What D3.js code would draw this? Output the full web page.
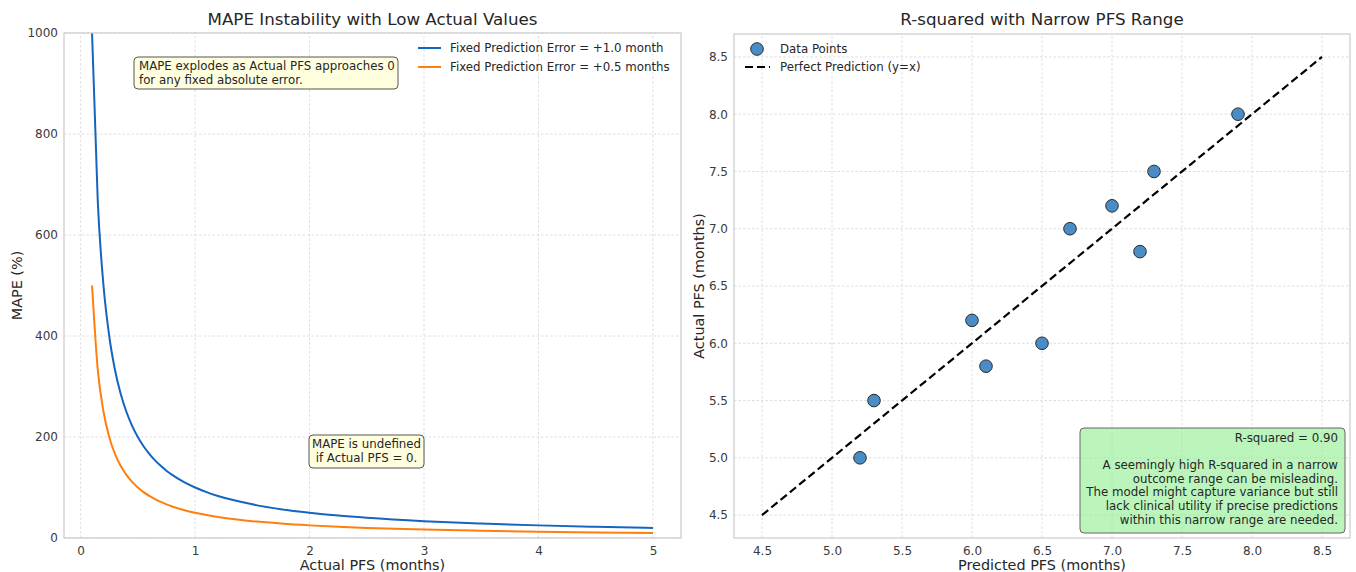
<!DOCTYPE html>
<html>
<head>
<meta charset="utf-8">
<script src="https://cdn.jsdelivr.net/npm/d3@7"></script>
<style>
  html, body { margin: 0; padding: 0; background: #fff; }
  svg { display: block; font-family: "DejaVu Sans", sans-serif; }
</style>
</head>
<body>
<svg id="chart" width="1356" height="572"></svg>
<script>
// ---- Left panel: MAPE vs actual PFS for two fixed absolute errors ----
const actualPFS = [0.1, 0.15, 0.2, 0.25, 0.3, 0.35, 0.4, 0.45, 0.5, 0.55, 0.6, 0.65, 0.7, 0.75, 0.8, 0.9, 1.0, 1.1, 1.2, 1.35, 1.5, 1.75, 2.0, 2.25, 2.5, 3.0, 3.5, 4.0, 4.5, 5.0];
const mapeErr10 = [1000, 666.7, 500, 400, 333.3, 285.7, 250, 222.2, 200, 181.8, 166.7, 153.8, 142.9, 133.3, 125, 111.1, 100, 90.9, 83.3, 74.1, 66.7, 57.1, 50, 44.4, 40, 33.3, 28.6, 25, 22.2, 20];
const mapeErr05 = [500, 333.3, 250, 200, 166.7, 142.9, 125, 111.1, 100, 90.9, 83.3, 76.9, 71.4, 66.7, 62.5, 55.6, 50, 45.5, 41.7, 37.0, 33.3, 28.6, 25, 22.2, 20, 16.7, 14.3, 12.5, 11.1, 10];
const seriesNames = ["Fixed Prediction Error = +1.0 month", "Fixed Prediction Error = +0.5 months"];
const leftXTicks = [0, 1, 2, 3, 4, 5];
const leftYTicks = [0, 200, 400, 600, 800, 1000];

// ---- Right panel: predicted vs actual PFS ----
const predictedPFS = [5.2, 5.3, 6.0, 6.1, 6.5, 6.7, 7.0, 7.2, 7.3, 7.9];
const observedPFS  = [5.0, 5.5, 6.2, 5.8, 6.0, 7.0, 7.2, 6.8, 7.5, 8.0];
const identityLine = [4.5, 8.5];
const rightTicks = [4.5, 5.0, 5.5, 6.0, 6.5, 7.0, 7.5, 8.0, 8.5];
const rSquared = 0.90;

const svg = d3.select("#chart");
const textColor = "#262626";
const tickColor = "#3a3a3a";
const smallFont = 11.8;

function drawFrame(g, x, y, xTicks, yTicks, fmt) {
  const [x0, x1] = x.range();
  const [y0, y1] = y.range();
  // grid
  g.append("g").selectAll("line").data(xTicks).join("line")
    .attr("x1", d => x(d)).attr("x2", d => x(d)).attr("y1", y0).attr("y2", y1)
    .attr("stroke", "#d6d6d6").attr("stroke-width", 0.8).attr("stroke-dasharray", "2.5,2");
  g.append("g").selectAll("line").data(yTicks).join("line")
    .attr("x1", x0).attr("x2", x1).attr("y1", d => y(d)).attr("y2", d => y(d))
    .attr("stroke", "#d6d6d6").attr("stroke-width", 0.8).attr("stroke-dasharray", "2.5,2");
  // axes (labels only, no tick marks)
  const xa = g.append("g").attr("transform", `translate(0,${y0})`)
    .call(d3.axisBottom(x).tickValues(xTicks).tickSize(0).tickPadding(8).tickFormat(fmt));
  const ya = g.append("g").attr("transform", `translate(${x0},0)`)
    .call(d3.axisLeft(y).tickValues(yTicks).tickSize(0).tickPadding(6).tickFormat(fmt));
  [xa, ya].forEach(a => {
    a.select(".domain").remove();
    a.selectAll("text").attr("fill", tickColor).attr("font-size", 12).attr("font-family", "DejaVu Sans");
  });
}

function drawSpines(g, x, y) {
  const [x0, x1] = x.range();
  const [y0, y1] = y.range();
  g.append("rect").attr("x", x0).attr("y", y1).attr("width", x1 - x0).attr("height", y0 - y1)
    .attr("fill", "none").attr("stroke", "#cccccc").attr("stroke-width", 1.25);
}

// ================= Left panel =================
const xL = d3.scaleLinear().domain([-0.145, 5.245]).range([64, 681]);
const yL = d3.scaleLinear().domain([0, 1000]).range([538, 33]);
const gL = svg.append("g");
drawFrame(gL, xL, yL, leftXTicks, leftYTicks, d3.format("d"));

svg.append("defs").append("clipPath").attr("id", "clipL")
  .append("rect").attr("x", 64).attr("y", 33).attr("width", 617).attr("height", 505);

const lineL = (vals) => d3.line().curve(d3.curveMonotoneX)
  .x((d, i) => xL(actualPFS[i])).y(d => yL(d))(vals);
const colors = ["#1565c0", "#ff7f0e"];
gL.append("g").attr("clip-path", "url(#clipL)").selectAll("path")
  .data([mapeErr10, mapeErr05]).join("path")
  .attr("d", d => lineL(d)).attr("fill", "none")
  .attr("stroke", (d, i) => colors[i]).attr("stroke-width", 2);

drawSpines(gL, xL, yL);

// legend
const legL = gL.append("g");
seriesNames.forEach((name, i) => {
  const yy = 48 + i * 19;
  legL.append("line").attr("x1", 418).attr("x2", 441).attr("y1", yy).attr("y2", yy)
    .attr("stroke", colors[i]).attr("stroke-width", 2);
  legL.append("text").attr("x", 450).attr("y", yy + 4).text(name)
    .attr("font-size", smallFont).attr("fill", textColor);
});

// annotation boxes
function noteBox(g, bx, by, bw, bh, lines, opts) {
  g.append("rect").attr("x", bx).attr("y", by).attr("width", bw).attr("height", bh)
    .attr("rx", 4).attr("fill", opts.fill).attr("fill-opacity", opts.opacity || 1)
    .attr("stroke", opts.stroke).attr("stroke-width", 1);
  lines.forEach((t, i) => {
    g.append("text").attr("x", opts.tx).attr("y", opts.ty + i * opts.lh)
      .attr("text-anchor", opts.anchor).attr("font-size", smallFont).attr("fill", textColor).text(t);
  });
}
noteBox(gL, 134, 57, 264, 32,
  ["MAPE explodes as Actual PFS approaches 0", "for any fixed absolute error."],
  { fill: "#ffffe0", stroke: "#555", tx: 139, ty: 70, lh: 14, anchor: "start" });
noteBox(gL, 309, 435, 115, 33,
  ["MAPE is undefined", "if Actual PFS = 0."],
  { fill: "#ffffe0", stroke: "#555", tx: 366.5, ty: 448, lh: 14, anchor: "middle" });

// titles and labels
gL.append("text").attr("x", (64 + 681) / 2).attr("y", 25).attr("text-anchor", "middle")
  .attr("font-size", 16.7).attr("fill", textColor).text("MAPE Instability with Low Actual Values");
gL.append("text").attr("x", (64 + 681) / 2).attr("y", 570).attr("text-anchor", "middle")
  .attr("font-size", 14.4).attr("fill", textColor).text("Actual PFS (months)");
gL.append("text").attr("transform", "translate(22,285.5) rotate(-90)").attr("text-anchor", "middle")
  .attr("font-size", 14.4).attr("fill", textColor).text("MAPE (%)");

// ================= Right panel =================
const xR = d3.scaleLinear().domain([4.3, 8.7]).range([734, 1350]);
const yR = d3.scaleLinear().domain([4.3, 8.7]).range([538, 34]);
const gR = svg.append("g");
drawFrame(gR, xR, yR, rightTicks, rightTicks, d3.format(".1f"));

gR.append("line")
  .attr("x1", xR(identityLine[0])).attr("y1", yR(identityLine[0]))
  .attr("x2", xR(identityLine[1])).attr("y2", yR(identityLine[1]))
  .attr("stroke", "#000").attr("stroke-width", 2.2).attr("stroke-dasharray", "8,4");

gR.append("g").selectAll("circle").data(predictedPFS).join("circle")
  .attr("cx", d => xR(d)).attr("cy", (d, i) => yR(observedPFS[i])).attr("r", 6.3)
  .attr("fill", "#4a8dc6").attr("stroke", "#2a2a2a").attr("stroke-width", 1);

drawSpines(gR, xR, yR);

// legend
gR.append("circle").attr("cx", 757).attr("cy", 49).attr("r", 6.3)
  .attr("fill", "#4a8dc6").attr("stroke", "#2a2a2a").attr("stroke-width", 1);
gR.append("text").attr("x", 780).attr("y", 53).attr("font-size", smallFont).attr("fill", textColor).text("Data Points");
gR.append("line").attr("x1", 745).attr("x2", 770).attr("y1", 67).attr("y2", 67)
  .attr("stroke", "#000").attr("stroke-width", 2.2).attr("stroke-dasharray", "8,4");
gR.append("text").attr("x", 780).attr("y", 71).attr("font-size", smallFont).attr("fill", textColor).text("Perfect Prediction (y=x)");

// R-squared note
const rLines = [
  `R-squared = ${rSquared.toFixed(2)}`,
  "",
  "A seemingly high R-squared in a narrow",
  "outcome range can be misleading.",
  "The model might capture variance but still",
  "lack clinical utility if precise predictions",
  "within this narrow range are needed."
];
noteBox(gR, 1080, 428, 265, 105, rLines,
  { fill: "#90ee90", opacity: 0.6, stroke: "#666", tx: 1338, ty: 442, lh: 13.6, anchor: "end" });

gR.append("text").attr("x", (734 + 1350) / 2).attr("y", 25).attr("text-anchor", "middle")
  .attr("font-size", 16.7).attr("fill", textColor).text("R-squared with Narrow PFS Range");
gR.append("text").attr("x", (734 + 1350) / 2).attr("y", 570).attr("text-anchor", "middle")
  .attr("font-size", 14.4).attr("fill", textColor).text("Predicted PFS (months)");
gR.append("text").attr("transform", "translate(704,286) rotate(-90)").attr("text-anchor", "middle")
  .attr("font-size", 14.4).attr("fill", textColor).text("Actual PFS (months)");
</script>
</body>
</html>
